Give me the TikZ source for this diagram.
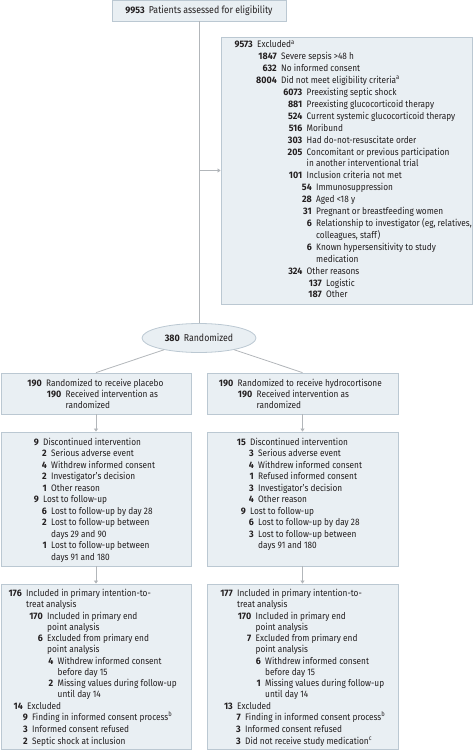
\documentclass[tikz,border=0pt]{standalone}
\usepackage{fontspec}
\setmainfont{Fira Sans}[FakeStretch=0.88]
\newfontfamily\numfam{Fira Sans}[FakeStretch=0.95]
\usetikzlibrary{shapes.geometric,arrows.meta}
\definecolor{boxfill}{RGB}{233,239,243}
\definecolor{boxline}{RGB}{187,200,210}
\definecolor{lineclr}{RGB}{178,182,186}
\definecolor{ink}{RGB}{35,31,32}
\newcommand\nf{\numfam\bfseries}
\newcount\rowcnt
\newcommand\rw[4]{\global\advance\rowcnt by 1
  \node[num] (n\the\rowcnt) at (#1,#2) {#3};
  \node[txt] (t\the\rowcnt) at ([xshift=4pt]n\the\rowcnt.base east) {#4};}
\newcommand\ct[3]{\global\advance\rowcnt by 1
  \node[txt] (t\the\rowcnt) at (#1,#2) {#3};}
\begin{document}
\begin{tikzpicture}[x=1pt,y=-1pt,
  box/.style={draw=boxline, fill=boxfill, line width=0.8pt, inner sep=0, anchor=center},
  conn/.style={draw=lineclr, line width=0.8pt},
  arr/.style={conn, -{Triangle[width=4pt,length=3pt]}},
  num/.style={anchor=base east, inner sep=0, text=ink, font=\fontsize{9.4}{11}\nf},
  txt/.style={anchor=base west, inner sep=0, text=ink, font=\fontsize{9.4}{11}\selectfont},
  ]
\useasboundingbox (0,0) rectangle (474,751);
% boxes
\node[box, minimum width=174pt, minimum height=21pt] (screen) at (199,10.5)
  {\fontsize{9.4}{11}\color{ink}{\nf 9953}\hspace{4pt}Patients assessed for eligibility};
\node[box, minimum width=251pt, minimum height=267pt] (excl) at (346.5,170.5) {};
\node[ellipse, draw=boxline, fill=boxfill, line width=0.8pt, inner sep=0,
  minimum width=114pt, minimum height=29pt] (rand) at (199,338)
  {\fontsize{9.4}{11}\color{ink}{\nf 380}\hspace{4pt}Randomized};
\node[box, minimum width=190pt, minimum height=41pt] (aL) at (96,393.5) {};
\node[box, minimum width=191pt, minimum height=41pt] (aR) at (302.5,393.5) {};
\node[box, minimum width=190pt, minimum height=134pt] (bL) at (96,499) {};
\node[box, minimum width=191pt, minimum height=134pt] (bR) at (302.5,499) {};
\node[box, minimum width=190pt, minimum height=165pt] (cL) at (96,666.5) {};
\node[box, minimum width=191pt, minimum height=165pt] (cR) at (302.5,666.5) {};
% connectors
\draw[conn] (screen.south) -- (rand.north);
\draw[arr] (screen.south |- excl.west) -- (excl.west);
\draw[conn] (rand) -- (aL.north);
\draw[conn] (rand) -- (aR.north);
\draw[arr] (aL.south) -- (bL.north);
\draw[arr] (aR.south) -- (bR.north);
\draw[arr] (bL.south) -- (cL.north);
\draw[arr] (bR.south) -- (cR.north);
% excluded
\rw{253}{48}{9573}{Excluded\textsuperscript{a}}
\rw{277}{59.9}{1847}{Severe sepsis >48 h}
\rw{277}{71.8}{632}{No informed consent}
\rw{277}{83.7}{8004}{Did not meet eligibility criteria\textsuperscript{a}}
\rw{302.5}{95.6}{6073}{Preexisting septic shock}
\rw{302.5}{107.5}{881}{Preexisting glucocorticoid therapy}
\rw{302.5}{119.4}{524}{Current systemic glucocorticoid therapy}
\rw{302.5}{131.3}{516}{Moribund}
\rw{302.5}{143.2}{303}{Had do-not-resuscitate order}
\rw{302.5}{155.1}{205}{Concomitant or previous participation}
\ct{306.5}{167}{in another interventional trial}
\rw{302.5}{178.9}{101}{Inclusion criteria not met}
\rw{312}{190.8}{54}{Immunosuppression}
\rw{312}{202.7}{28}{Aged <18 y}
\rw{312}{214.6}{31}{Pregnant or breastfeeding women}
\rw{312}{226.5}{6}{Relationship to investigator (eg, relatives,}
\ct{316}{238.4}{colleagues, staff)}
\rw{312}{250.3}{6}{Known hypersensitivity to study}
\ct{316}{262.2}{medication}
\rw{302.5}{274.1}{324}{Other reasons}
\rw{322}{286}{137}{Logistic}
\rw{322}{297.9}{187}{Other}
% arm boxes
\rw{42}{386}{190}{Randomized to receive placebo}
\rw{61.5}{397.5}{190}{Received intervention as}
\ct{65.5}{408}{randomized}
\rw{233.5}{386}{190}{Randomized to receive hydrocortisone}
\rw{252.5}{397.5}{190}{Received intervention as}
\ct{256.5}{408}{randomized}
% follow-up boxes
\rw{39}{445}{9}{Discontinued intervention}
\rw{47}{456.5}{2}{Serious adverse event}
\rw{47}{468}{4}{Withdrew informed consent}
\rw{47}{479.5}{2}{Investigator's decision}
\rw{47}{491}{1}{Other reason}
\rw{39}{502.5}{9}{Lost to follow-up}
\rw{47}{514}{6}{Lost to follow-up by day 28}
\rw{47}{525.5}{2}{Lost to follow-up between}
\ct{51}{537}{days 29 and 90}
\rw{47}{548.5}{1}{Lost to follow-up between}
\ct{51}{560}{days 91 and 180}
\rw{246}{445}{15}{Discontinued intervention}
\rw{254}{456.5}{3}{Serious adverse event}
\rw{254}{468}{4}{Withdrew informed consent}
\rw{254}{479.5}{1}{Refused informed consent}
\rw{254}{491}{3}{Investigator's decision}
\rw{254}{502.5}{4}{Other reason}
\rw{246}{514}{9}{Lost to follow-up}
\rw{254}{525.5}{6}{Lost to follow-up by day 28}
\rw{254}{537}{3}{Lost to follow-up between}
\ct{258}{548.5}{days 91 and 180}
% analysis boxes
\rw{22}{596}{176}{Included in primary intention-to-}
\ct{26}{607}{treat analysis}
\rw{43}{619}{170}{Included in primary end}
\ct{47}{630}{point analysis}
\rw{43}{641}{6}{Excluded from primary end}
\ct{47}{652}{point analysis}
\rw{53.5}{664}{4}{Withdrew informed consent}
\ct{57.5}{675}{before day 15}
\rw{53.5}{686}{2}{Missing values during follow-up}
\ct{57.5}{697}{until day 14}
\rw{23}{709}{14}{Excluded}
\rw{28}{720}{9}{Finding in informed consent process\textsuperscript{b}}
\rw{28}{732}{3}{Informed consent refused}
\rw{28}{744}{2}{Septic shock at inclusion}
\rw{233}{596}{177}{Included in primary intention-to-}
\ct{237}{607}{treat analysis}
\rw{251.5}{619}{170}{Included in primary end}
\ct{255.5}{630}{point analysis}
\rw{251.5}{641}{7}{Excluded from primary end}
\ct{255.5}{652}{point analysis}
\rw{261}{664}{6}{Withdrew informed consent}
\ct{265}{675}{before day 15}
\rw{261}{686}{1}{Missing values during follow-up}
\ct{265}{697}{until day 14}
\rw{233}{709}{13}{Excluded}
\rw{241}{720}{7}{Finding in informed consent process\textsuperscript{b}}
\rw{241}{732}{3}{Informed consent refused}
\rw{241}{744}{3}{Did not receive study medication\textsuperscript{c}}
\end{tikzpicture}
\end{document}
